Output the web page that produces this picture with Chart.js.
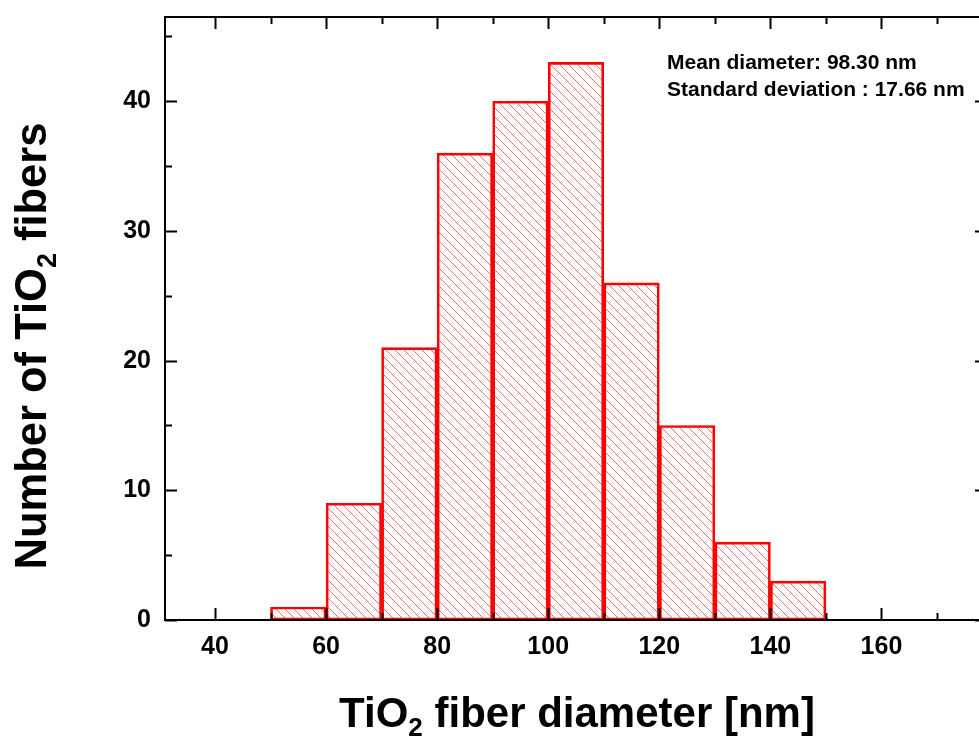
<!DOCTYPE html>
<html>
<head>
<meta charset="utf-8">
<script src="https://cdn.jsdelivr.net/npm/chart.js@4.4.1/dist/chart.umd.min.js"></script>
<style>
  html, body { margin: 0; padding: 0; background: #fff; }
  #wrap { width: 979px; height: 742px; overflow: hidden; position: relative; }
  canvas { display: block; }
</style>
</head>
<body>
<div id="wrap"><canvas id="hist" width="1000" height="742"></canvas></div>
<script>
// histogram bins (lower edges, nm) and counts
var binStarts = [50, 60, 70, 80, 90, 100, 110, 120, 130, 140];
var binWidth = 10;
var counts = [1, 9, 21, 36, 40, 43, 26, 15, 6, 3];

// axis ranges and ticks
var xRange = [31, 179];
var yRange = [0, 46.5];
var xMajorTicks = [40, 60, 80, 100, 120, 140, 160];
var xMinorTicks = [50, 70, 90, 110, 130, 150, 170];
var yMajorTicks = [0, 10, 20, 30, 40];
var yMinorTicks = [5, 15, 25, 35, 45];

var statsLines = ["Mean diameter: 98.30 nm", "Standard deviation : 17.66 nm"];

var FONT = "'Liberation Sans', Arial, sans-serif";

function hatchPattern(ctx) {
    var n = 9;
    var tile = document.createElement("canvas");
    tile.width = n;
    tile.height = n;
    var t = tile.getContext("2d");
    t.strokeStyle = "rgba(240, 50, 50, 0.7)";
    t.lineWidth = 1;
    t.beginPath();
    t.moveTo(-1, -1); t.lineTo(n + 1, n + 1);
    t.moveTo(-1, n - 1); t.lineTo(1, n + 1);
    t.moveTo(n - 1, -1); t.lineTo(n + 1, 1);
    t.stroke();
    return ctx.createPattern(tile, "repeat");
}

// draw text with "2" as a subscript; parts = [[text, isSub], ...]
function richWidth(ctx, parts, size) {
    var w = 0;
    parts.forEach(function(p) {
        ctx.font = "bold " + (p[1] ? size * 0.62 : size) + "px " + FONT;
        w += ctx.measureText(p[0]).width;
    });
    return w;
}

function drawRich(ctx, parts, x, y, size) {
    var cx = x - richWidth(ctx, parts, size) / 2;
    parts.forEach(function(p) {
        ctx.font = "bold " + (p[1] ? size * 0.62 : size) + "px " + FONT;
        ctx.fillText(p[0], cx, p[1] ? y + size * 0.22 : y);
        cx += ctx.measureText(p[0]).width;
    });
}

var framePlugin = {
    id: "frame",
    afterDatasetsDraw: function(chart) {
        var ctx = chart.ctx;
        var a = chart.chartArea;
        var xs = chart.scales.x, ys = chart.scales.y;
        ctx.save();
        ctx.strokeStyle = "#000";
        ctx.lineWidth = 2;
        ctx.strokeRect(a.left, a.top, a.right - a.left, a.bottom - a.top);

        ctx.beginPath();
        function xTick(v, len) {
            var px = Math.round(xs.getPixelForValue(v)) + 0.5;
            ctx.moveTo(px, a.bottom); ctx.lineTo(px, a.bottom - len);
            ctx.moveTo(px, a.top); ctx.lineTo(px, a.top + len);
        }
        function yTick(v, len) {
            var py = Math.round(ys.getPixelForValue(v)) + 0.5;
            ctx.moveTo(a.left, py); ctx.lineTo(a.left + len, py);
            ctx.moveTo(a.right, py); ctx.lineTo(a.right - len, py);
        }
        xMajorTicks.forEach(function(v) { xTick(v, 12); });
        xMinorTicks.forEach(function(v) { xTick(v, 7); });
        yMajorTicks.forEach(function(v) { yTick(v, 12); });
        yMinorTicks.forEach(function(v) { yTick(v, 7); });
        ctx.stroke();

        // statistics text
        ctx.fillStyle = "#000";
        ctx.font = "bold 21px " + FONT;
        ctx.textAlign = "left";
        ctx.textBaseline = "alphabetic";
        ctx.fillText(statsLines[0], 667, 69);
        ctx.fillText(statsLines[1], 667, 96);

        // axis titles
        drawRich(ctx, [["TiO", false], ["2", true], [" fiber diameter [nm]", false]], 577, 727, 42);
        ctx.translate(46, 346);
        ctx.rotate(-Math.PI / 2);
        drawRich(ctx, [["Number of TiO", false], ["2", true], [" fibers", false]], 0, 0, 43.5);
        ctx.restore();
    }
};

var canvas = document.getElementById("hist");
var ctx = canvas.getContext("2d");

var points = binStarts.map(function(s, i) {
    return { x: s + binWidth / 2, y: counts[i] };
});

new Chart(canvas, {
    type: "bar",
    data: {
        datasets: [{
            data: points,
            backgroundColor: hatchPattern(ctx),
            borderColor: "#ff0000",
            borderWidth: 2,
            borderSkipped: false,
            categoryPercentage: 1,
            barPercentage: 1
        }]
    },
    options: {
        responsive: false,
        animation: false,
        layout: { padding: { top: 17, right: 13, left: 0, bottom: 0 } },
        plugins: { legend: { display: false }, tooltip: { enabled: false } },
        scales: {
            x: {
                type: "linear",
                offset: false,
                min: xRange[0],
                max: xRange[1],
                grid: { display: false, drawTicks: false, offset: false },
                border: { display: false },
                afterBuildTicks: function(scale) {
                    scale.ticks = xMajorTicks.map(function(v) { return { value: v }; });
                },
                afterFit: function(scale) {
                    scale.height = 122;
                    scale.paddingLeft = 0;
                    scale.paddingRight = 0;
                },
                ticks: {
                    padding: 12,
                    color: "#000",
                    maxRotation: 0,
                    font: { family: FONT, size: 25, weight: "bold" }
                }
            },
            y: {
                min: yRange[0],
                max: yRange[1],
                grid: { display: false, drawTicks: false },
                border: { display: false },
                afterBuildTicks: function(scale) {
                    scale.ticks = yMajorTicks.map(function(v) { return { value: v }; });
                },
                afterFit: function(scale) {
                    scale.width = 165;
                    scale.paddingTop = 0;
                    scale.paddingBottom = 0;
                },
                ticks: {
                    padding: 14,
                    color: "#000",
                    font: { family: FONT, size: 25, weight: "bold" }
                }
            }
        }
    },
    plugins: [framePlugin]
});
</script>
</body>
</html>
